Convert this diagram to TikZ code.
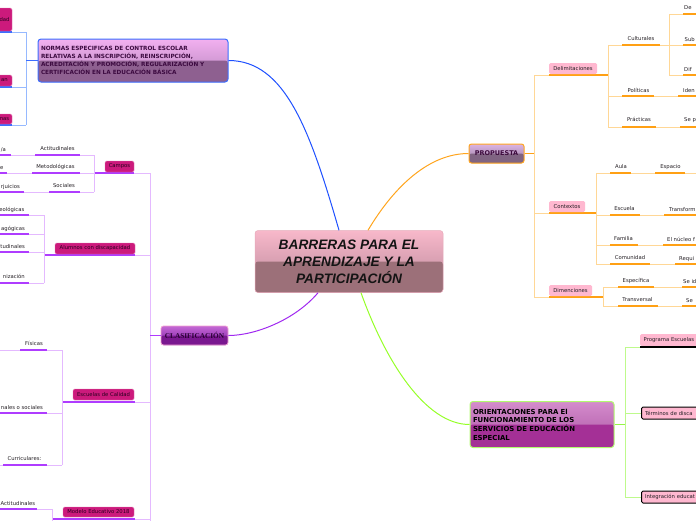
\documentclass[tikz,border=0pt]{standalone}
\usepackage{fontspec}
\setmainfont{DejaVu Sans}
\newfontfamily\titlefont{Liberation Sans}
\newfontfamily\clasfont{Liberation Serif}
\definecolor{txt}{RGB}{35,30,35}
\definecolor{magbox}{RGB}{204,26,124}
\definecolor{magtxt}{RGB}{42,0,32}
\definecolor{pinkbox}{RGB}{255,184,208}
\definecolor{odark}{RGB}{255,160,20}
\definecolor{olight}{RGB}{255,215,150}
\definecolor{pdark}{RGB}{175,60,255}
\definecolor{plight}{RGB}{228,185,255}
\definecolor{bdark}{RGB}{60,110,255}
\definecolor{blight}{RGB}{150,185,255}
\definecolor{glight}{RGB}{190,250,140}
\definecolor{gmid}{RGB}{150,245,70}
\definecolor{bcurve}{RGB}{30,80,255}
\definecolor{ocurve}{RGB}{255,165,30}
\definecolor{pcurve}{RGB}{160,40,240}
\definecolor{gcurve}{RGB}{150,255,40}
\definecolor{tA}{RGB}{248,184,202}
\definecolor{tB}{RGB}{184,136,154}
\definecolor{tC}{RGB}{156,112,121}
\definecolor{nA}{RGB}{242,176,240}
\definecolor{nB}{RGB}{182,132,188}
\definecolor{nC}{RGB}{142,96,144}
\definecolor{prA}{RGB}{220,180,228}
\definecolor{prB}{RGB}{148,124,156}
\definecolor{prC}{RGB}{128,100,130}
\definecolor{cA}{RGB}{196,104,212}
\definecolor{cB}{RGB}{124,24,164}
\definecolor{cC}{RGB}{122,24,144}
\definecolor{oA}{RGB}{212,140,204}
\definecolor{oB}{RGB}{172,84,164}
\definecolor{oC}{RGB}{164,48,150}
\begin{document}
\begin{tikzpicture}[x=1pt,y=-1pt,
  twotone/.style n args={3}{top color=#1, bottom color=#2,
    path picture={\fill[#3] (path picture bounding box.west) rectangle (path picture bounding box.south east);}},
  lbl/.style={inner sep=0pt, font=\fontsize{5.3}{6}\selectfont, text=txt},
  mbox/.style={fill=magbox, draw=magbox!60!white, line width=0.4pt, rounded corners=1.5pt, inner sep=0pt,
    font=\fontsize{5.3}{6}\selectfont, text=magtxt},
  pbox/.style={fill=pinkbox, rounded corners=1.5pt, inner sep=0pt, font=\fontsize{5.3}{6}\selectfont, text=txt},
  gbox/.style={fill=pinkbox, rounded corners=1.5pt, inner xsep=3.5pt, inner ysep=0pt, anchor=west,
    minimum height=12pt, text width=62pt, align=left, font=\fontsize{5.3}{6}\selectfont, text=txt},
  ul/.style={line width=1.3pt},
  cn/.style={line width=0.9pt},
  curve/.style={line width=1pt}
]
\useasboundingbox (0,0) rectangle (696,520);

% ---------- title node ----------
\node[twotone={tA}{tB}{tC}, draw=tA!80!tC, line width=0.5pt, rounded corners=3pt,
  minimum width=188pt, minimum height=62pt, inner sep=0pt, align=center,
  font=\titlefont\bfseries\itshape\fontsize{13.7}{17}\selectfont, text=black!92] (title) at (349,261.5)
  {BARRERAS PARA EL\\APRENDIZAJE Y LA\\PARTICIPACIÓN};

% ---------- main boxes ----------
\node[twotone={nA}{nB}{nC}, draw=bdark, line width=1pt, rounded corners=3pt,
  minimum width=190pt, minimum height=43pt, inner xsep=3pt, inner ysep=0pt, text width=184pt, align=left,
  font=\bfseries\fontsize{5.75}{8}\selectfont, text={rgb,255:red,60;green,10;blue,64}] (normas) at (133,60.5)
  {NORMAS ESPECIFICAS DE CONTROL ESCOLAR\\RELATIVAS A LA INSCRIPCIÓN, REINSCRIPCIÓN,\\ACREDITACIÓN Y PROMOCIÓN, REGULARIZACIÓN Y\\CERTIFICACIÓN EN LA EDUCACIÓN BÁSICA};

\node[twotone={prA}{prB}{prC}, draw=ocurve, line width=1pt, rounded corners=2.5pt,
  minimum width=55pt, minimum height=19pt, inner sep=0pt,
  font=\bfseries\fontsize{6.5}{8}\selectfont, text={rgb,255:red,60;green,10;blue,60}] (propuesta) at (496.5,153.5) {PROPUESTA};

\node[twotone={cA}{cB}{cC}, draw={rgb,255:red,240;green,160;blue,210}, line width=0.8pt, rounded corners=2.5pt,
  minimum width=67pt, minimum height=19pt, inner sep=0pt,
  font=\clasfont\bfseries\fontsize{7.3}{9}\selectfont, text={rgb,255:red,40;green,0;blue,50}] (clasif) at (194.5,335.5) {CLASIFICACIÓN};

\node[twotone={oA}{oB}{oC}, draw=glight!70!gcurve, line width=1pt, rounded corners=3pt,
  minimum width=144pt, minimum height=46pt, inner xsep=3pt, inner ysep=0pt, text width=138pt, align=left,
  font=\bfseries\fontsize{6.9}{8.7}\selectfont, text=black] (orient) at (542,424.5)
  {ORIENTACIONES PARA El\\FUNCIONAMIENTO DE LOS\\SERVICIOS DE EDUCACIÓN\\ESPECIAL};

% ---------- curves ----------
\draw[curve,bcurve] ([xshift=-10pt]title.north) .. controls (310,130) and (285,60.5) .. (normas.east);
\draw[curve,ocurve] ([xshift=19pt]title.north) .. controls (395,185) and (430,153.5) .. (propuesta.west);
\draw[curve,pcurve] ([xshift=-31pt]title.south) .. controls (295,320) and (255,335.5) .. (clasif.east);
\draw[curve,gcurve] ([xshift=12pt]title.south) .. controls (385,360) and (425,424.5) .. (orient.west);

% ---------- blue subtree ----------
\draw[cn,blight] (26,32)--(26,125);
\draw[cn,bdark] (26,60.5)--(normas.west);
\foreach \yy in {32,87,125}{
  \draw[ul,bdark] (0,\yy)--(12,\yy);
  \draw[cn,blight] (12,\yy)--(26,\yy);
}
\node[mbox, minimum width=15pt, minimum height=23pt] (bA) at (4.5,19.5) {dad};
\node[mbox, minimum width=15pt, minimum height=11pt] (bB) at (4.5,80.5) {an};
\node[mbox, minimum width=15pt, minimum height=10pt] (bC) at (4.5,119) {nas};

% ---------- purple subtree ----------
\draw[cn,plight] (150,173)--(150,525);
\draw[cn,pdark] (150,335.5)--(clasif.west);
% Campos
\draw[ul,pdark] (94,173)--(134,173); \draw[cn,plight] (134,173)--(150,173);
\draw[cn,plight] (94,155)--(94,192);
\draw[ul,pdark] (35,155)--(80,155); \draw[cn,plight] (80,155)--(94,155); \draw[cn,plight] (11,155)--(35,155); \draw[ul,pdark] (0,155)--(11,155);
\draw[ul,pdark] (32,173)--(80,173); \draw[cn,plight] (80,173)--(94,173); \draw[cn,plight] (7,173)--(32,173); \draw[ul,pdark] (0,173)--(7,173);
\draw[ul,pdark] (49,192)--(80,192); \draw[cn,plight] (80,192)--(94,192); \draw[cn,plight] (24,192)--(49,192); \draw[ul,pdark] (0,192)--(24,192);
\node[mbox, minimum width=29pt, minimum height=11pt] (campos) at (119.5,166.5) {Campos};
\node[lbl] (c1) at (57.5,149) {Actitudinales};
\node[lbl] (c2) at (55.5,167) {Metodológicas};
\node[lbl] (c3) at (64,186) {Sociales};
\node[lbl, anchor=mid east] (c1a) at (6,149) {/a};
\node[lbl, anchor=mid east] (c2a) at (3.5,167) {e};
\node[lbl, anchor=mid east] (c3a) at (20,186) {rjuicios};
% Alumnos
\draw[ul,pdark] (44,255)--(135,255); \draw[cn,plight] (135,255)--(150,255);
\draw[cn,plight] (44,215)--(44,283);
\foreach \yy in {215,234,252,283}{
  \draw[ul,pdark] (0,\yy)--(29,\yy); \draw[cn,plight] (29,\yy)--(44,\yy);
}
\node[mbox, minimum width=80pt, minimum height=11pt] (alumnos) at (95,248.5) {Alumnos con discapacidad};
\node[lbl, anchor=mid east] (a1) at (24.5,209) {eológicas};
\node[lbl, anchor=mid east] (a2) at (25,228) {agógicas};
\node[lbl, anchor=mid east] (a3) at (25,246) {tudinales};
\node[lbl, anchor=mid east] (a4) at (25,276) {nización};
% Escuelas de Calidad
\draw[ul,pdark] (62,402)--(135,402); \draw[cn,plight] (135,402)--(150,402);
\draw[cn,plight] (62,350)--(62,465);
\draw[ul,pdark] (20,350)--(47,350); \draw[cn,plight] (47,350)--(62,350); \draw[cn,plight] (0,350)--(20,350);
\draw[ul,pdark] (0,413)--(47,413); \draw[cn,plight] (47,413)--(62,413);
\draw[ul,pdark] (3,465)--(47,465); \draw[cn,plight] (47,465)--(62,465); \draw[cn,plight] (0,465)--(3,465);
\node[mbox, minimum width=61pt, minimum height=11pt] (escuelas) at (103.5,394.5) {Escuelas de Calidad};
\node[lbl] (e1) at (34,343) {Físicas};
\node[lbl, anchor=mid east] (e2) at (43,407) {nales o sociales};
\node[lbl] (e3) at (24.5,459) {Curriculares:};
% Modelo Educativo 2018
\draw[ul,pdark] (52,519)--(135,519); \draw[cn,plight] (135,519)--(150,519);
\draw[cn,plight] (52,509)--(52,525);
\draw[ul,pdark] (0,509)--(37,509); \draw[cn,plight] (37,509)--(52,509);
\node[mbox, minimum width=71pt, minimum height=10pt] (modelo) at (98.5,512) {Modelo Educativo 2018};
\node[lbl, anchor=mid west] (m1) at (0.5,503) {Actitudinales};

% ---------- orange subtree ----------
\draw[cn,odark] (propuesta.east)--(534,153.5);
\draw[cn,olight] (534,75)--(534,297);
% Delimitaciones
\draw[cn,olight] (534,75)--(549,75); \draw[ul,odark] (549,75)--(608,75);
\draw[cn,olight] (608,45)--(608,127);
\draw[cn,olight] (608,45)--(622,45); \draw[ul,odark] (622,45)--(660,45); \draw[cn,olight] (660,45)--(669,45);
\draw[cn,olight] (669,14)--(669,75);
\foreach \yy in {14,45,75}{ \draw[cn,olight] (669,\yy)--(683,\yy); \draw[ul,odark] (683,\yy)--(700,\yy); }
\draw[cn,olight] (608,96)--(622,96); \draw[ul,odark] (622,96)--(654,96); \draw[cn,olight] (654,96)--(678,96); \draw[ul,odark] (678,96)--(700,96);
\draw[cn,olight] (608,127)--(622,127); \draw[ul,odark] (622,127)--(656,127); \draw[cn,olight] (656,127)--(680,127); \draw[ul,odark] (680,127)--(700,127);
\node[pbox, minimum width=48pt, minimum height=11pt] (delim) at (573,68.5) {Delimitaciones};
\node[lbl] (d1) at (641,39) {Culturales};
\node[lbl] (d2) at (638.5,90) {Políticas};
\node[lbl] (d3) at (639,119) {Prácticas};
\node[lbl, anchor=mid west] (d1a) at (684,7) {De};
\node[lbl, anchor=mid west] (d1b) at (684.5,39) {Sub};
\node[lbl, anchor=mid west] (d1c) at (684,69) {Dif};
\node[lbl, anchor=mid west] (d2a) at (683,90) {Iden};
\node[lbl, anchor=mid west] (d3a) at (684,119) {Se p};
% Contextos
\draw[cn,olight] (534,213)--(549,213); \draw[ul,odark] (549,213)--(596,213);
\draw[cn,olight] (596,173)--(596,264);
\draw[cn,olight] (596,173)--(610,173); \draw[ul,odark] (610,173)--(631,173); \draw[cn,olight] (631,173)--(655,173); \draw[ul,odark] (655,173)--(685,173); \draw[cn,olight] (685,173)--(700,173);
\draw[cn,olight] (596,215)--(610,215); \draw[ul,odark] (610,215)--(640,215); \draw[cn,olight] (640,215)--(664,215); \draw[ul,odark] (664,215)--(700,215);
\draw[cn,olight] (596,245)--(610,245); \draw[ul,odark] (610,245)--(638,245); \draw[cn,olight] (638,245)--(663,245); \draw[ul,odark] (663,245)--(700,245);
\draw[cn,olight] (596,264)--(610,264); \draw[ul,odark] (610,264)--(650,264); \draw[cn,olight] (650,264)--(675,264); \draw[ul,odark] (675,264)--(700,264);
\node[pbox, minimum width=36pt, minimum height=11pt] (context) at (567,206.5) {Contextos};
\node[lbl] (k1) at (621,167) {Aula};
\node[lbl] (k1a) at (670.5,167) {Espacio};
\node[lbl] (k2) at (624.5,209) {Escuela};
\node[lbl, anchor=mid west] (k2a) at (669,209) {Transform};
\node[lbl] (k3) at (623.5,239) {Familia};
\node[lbl, anchor=mid west] (k3a) at (667,239) {El núcleo f};
\node[lbl] (k4) at (630,258) {Comunidad};
\node[lbl, anchor=mid west] (k4a) at (679,258) {Requi};
% Dimenciones
\draw[cn,olight] (534,297)--(549,297); \draw[ul,odark] (549,297)--(603,297);
\draw[cn,olight] (603,287)--(603,306);
\draw[cn,olight] (603,287)--(618,287); \draw[ul,odark] (618,287)--(654,287); \draw[cn,olight] (654,287)--(682,287); \draw[ul,odark] (682,287)--(700,287);
\draw[cn,olight] (603,306)--(618,306); \draw[ul,odark] (618,306)--(658,306); \draw[cn,olight] (658,306)--(682,306); \draw[ul,odark] (682,306)--(700,306);
\node[pbox, minimum width=43pt, minimum height=11pt] (dimen) at (570.5,290.5) {Dimenciones};
\node[lbl] (n1) at (636,281) {Específica};
\node[lbl, anchor=mid west] (n1a) at (683,281) {Se id};
\node[lbl] (n2) at (637.5,300) {Transversal};
\node[lbl, anchor=mid west] (n2a) at (686,300) {Se};

% ---------- green subtree ----------
\draw[cn,gmid] (orient.east)--(625,424.5);
\draw[cn,glight] (625,347)--(625,497);
\draw[cn,glight] (625,347)--(640,347);
\draw[cn,glight] (625,413)--(641,413);
\draw[cn,glight] (625,497)--(641,497);
\node[gbox] (prog) at (640,340) {Programa Escuelas};
\draw[line width=1.6pt,black] (640,347)--(706,347);
\node[gbox, draw=black, line width=1pt] (term) at (641,413) {Términos de disca};
\node[gbox, draw=black, line width=1pt] (integ) at (641,497) {Integración educat};
\end{tikzpicture}
\end{document}
